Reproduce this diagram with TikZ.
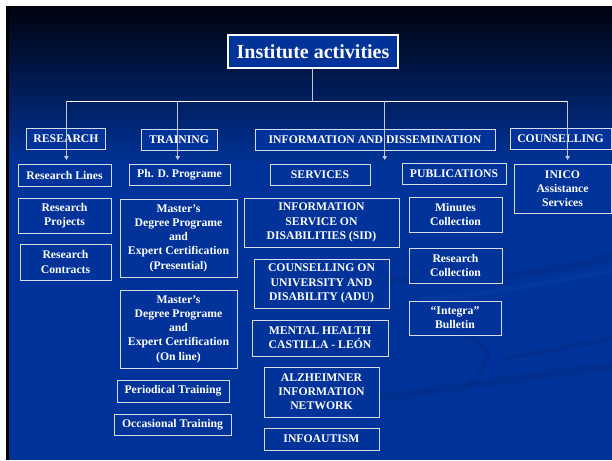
\documentclass[tikz,border=0pt]{standalone}
\usepackage{fontspec}
\setmainfont{Liberation Serif}
\usetikzlibrary{arrows.meta}
\definecolor{slideblue}{HTML}{003399}
\definecolor{topdark}{HTML}{00030F}
\definecolor{boxline}{HTML}{D8DCE8}
\definecolor{conline}{HTML}{C0C8DC}
\definecolor{swoosh}{HTML}{00267A}
\definecolor{swooshlight}{HTML}{1A48A8}
\begin{document}
\begin{tikzpicture}[x=1pt,y=-1pt,
  box/.style 2 args={draw=boxline, line width=0.9pt, fill=slideblue, text=white,
    font=\bfseries\fontsize{11.7}{14.2}\selectfont, align=center, inner sep=0pt,
    minimum width=#1, minimum height=#2},
  titlebox/.style={draw=white, line width=2pt, fill=slideblue, text=white,
    font=\bfseries\fontsize{20}{24}\selectfont, inner sep=0pt,
    minimum width=170pt, minimum height=33pt},
  conn/.style={draw=conline, line width=0.9pt},
  busline/.style={draw=white, line width=1pt},
  drop/.style={draw=conline, line width=0.9pt, -{Triangle[width=4.5pt,length=4pt]}},
  sw/.style={draw=swoosh, line cap=round, opacity=0.3}
]
\useasboundingbox (0,0) rectangle (612,460);
% slide background
\fill[white] (0,0) rectangle (612,460);
\fill[slideblue] (6,7) rectangle (612,460);
\shade[top color=topdark, bottom color=slideblue] (6,7) rectangle (612,165);
\fill[black] (6,7) rectangle (9,460);
% decorative swooshes
\draw[sw, line width=7pt] (385,279) .. controls (440,282) and (520,280) .. (612,257);
\draw[sw, line width=6pt] (455,333) .. controls (490,340) and (500,360) .. (465,388);
\draw[sw, line width=8pt] (380,398) .. controls (450,388) and (540,375) .. (612,366);
\draw[sw, line width=5pt] (505,358) .. controls (540,352) and (580,345) .. (612,338);
\draw[draw=swooshlight, opacity=0.25, line width=5pt, line cap=round] (420,300) .. controls (470,296) and (540,285) .. (612,270);

% title
\node[titlebox] (title) at (313,51.5) {Institute activities};

% headers
\node[box={79pt}{21pt}] (research) at (66,138.5) {RESEARCH};
\node[box={76pt}{21pt}] (training) at (179,139.5) {TRAINING};
\node[box={240pt}{21pt}] (info) at (375,139.5) {INFORMATION AND DISSEMINATION};
\node[box={101pt}{21pt}] (counsel) at (560.5,138.5) {COUNSELLING};

% research column
\node[box={93pt}{22pt}] (rlines) at (64.5,175) {Research Lines};
\node[box={93pt}{35pt}] (rproj) at (64.5,215.5) {Research\\Projects};
\node[box={91pt}{36pt}] (rcontr) at (65.5,262) {Research\\Contracts};

% training column
\node[box={101pt}{21pt}] (phd) at (179.5,174.5) {Ph. D. Programe};
\node[box={117pt}{78pt}] (mpres) at (178.5,238) {Master’s\\Degree Programe\\and\\Expert Certification\\(Presential)};
\node[box={117pt}{78pt}] (monline) at (178.5,329) {Master’s\\Degree Programe\\and\\Expert Certification\\(On line)};
\node[box={112pt}{22pt}] (period) at (173,391) {Periodical Training};
\node[box={117pt}{21pt}] (occas) at (172.5,424.5) {Occasional Training};

% services column
\node[box={100pt}{21pt}] (services) at (320,174.5) {SERVICES};
\node[box={155pt}{49pt}] (sid) at (321.5,222.5) {INFORMATION\\SERVICE ON\\DISABILITIES (SID)};
\node[box={135pt}{49pt}] (adu) at (321.5,283.5) {COUNSELLING ON\\UNIVERSITY AND\\DISABILITY (ADU)};
\node[box={136pt}{36pt}] (mental) at (320,338) {MENTAL HEALTH\\CASTILLA - LEÓN};
\node[box={115pt}{50pt}] (alz) at (321.5,392) {ALZHEIMNER\\INFORMATION\\NETWORK};
\node[box={115pt}{22pt}] (infoaut) at (321.5,439) {INFOAUTISM};

% publications column
\node[box={104pt}{21pt}] (pubs) at (454,173.5) {PUBLICATIONS};
\node[box={93pt}{35pt}] (minutes) at (455.5,214.5) {Minutes\\Collection};
\node[box={93pt}{35pt}] (rcoll) at (455.5,265.5) {Research\\Collection};
\node[box={92pt}{34pt}] (integra) at (455,318) {“Integra”\\Bulletin};

% counselling column
\node[box={97pt}{49pt}] (inico) at (562.5,188.5) {INICO\\Assistance\\Services};

% connectors
\coordinate (bus) at (312,101);
\coordinate (b1) at (66.4,101);
\coordinate (b2) at (177.7,101);
\coordinate (b3) at (384.8,101);
\coordinate (b4) at (567.6,101);
\coordinate (e1) at (66.4,160);
\coordinate (e2) at (177.7,160);
\coordinate (e3) at (384.8,160);
\coordinate (e4) at (567.6,160);
\draw[conn] (title.south -| bus) -- (bus);
\draw[busline] (b1) -- (b4);
\draw[drop] (b1) -- (e1);
\draw[drop] (b2) -- (e2);
\draw[drop] (b3) -- (e3);
\draw[drop] (b4) -- (e4);
\end{tikzpicture}
\end{document}
